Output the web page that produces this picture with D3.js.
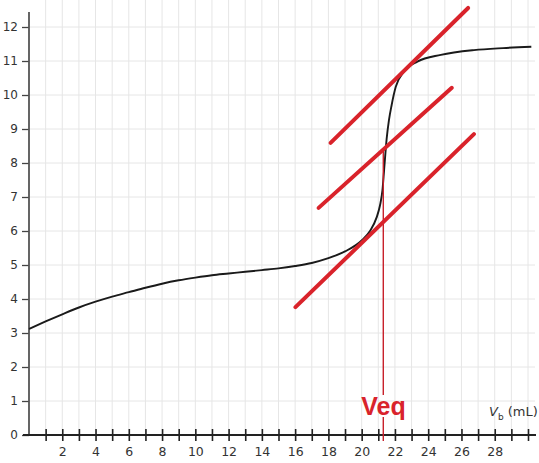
<!DOCTYPE html>
<html><head><meta charset="utf-8">
<script src="https://cdn.jsdelivr.net/npm/d3@7"></script>
<style>body{margin:0;background:#fff;}svg{display:block;}</style>
</head><body>
<svg id="c" width="539" height="463"></svg>
<script>
// titration curve (Vb in mL, pH)
const curveVb = [0,1,2,3,4,5,6,7,8,9,10,11,12,13,14,15,16,17,18,19,20,20.5,20.9,21.1,21.25,21.35,21.5,21.64,21.8,22.05,22.55,23.35,24.76,26.75,28.5,30.2];
const curvePH = [3.12,3.34,3.55,3.75,3.92,4.07,4.2,4.33,4.45,4.55,4.63,4.7,4.75,4.8,4.85,4.9,4.97,5.06,5.2,5.4,5.72,6.0,6.4,6.75,7.2,7.8,8.7,9.26,9.7,10.24,10.69,10.98,11.18,11.32,11.38,11.42];
// parallel tangent method lines: [Vb start, pH start, Vb end, pH end]
const tangentTop = [18.13, 8.59, 26.4, 12.56];
const tangentMid = [17.41, 6.68, 25.42, 10.21];
const tangentBot = [16.02, 3.76, 26.75, 8.85];
const veq = 21.3;
const veqTopPH = 8.39;
const xTickLabels = [2,4,6,8,10,12,14,16,18,20,22,24,26,28];
const yTickLabels = [0,1,2,3,4,5,6,7,8,9,10,11,12];

const svg = d3.select("#c");
const x = d3.scaleLinear().domain([0,30]).range([29,528]);
const y = d3.scaleLinear().domain([0,12]).range([435,27]);

// grid
const g = svg.append("g");
g.selectAll("line.v").data(d3.range(1,31)).join("line")
  .attr("x1",d=>x(d)).attr("x2",d=>x(d)).attr("y1",y(0)).attr("y2",0)
  .attr("stroke","#e6e6e6").attr("stroke-width",1);
g.selectAll("line.h").data(d3.range(1,13)).join("line")
  .attr("x1",x(0)).attr("x2",535).attr("y1",d=>y(d)).attr("y2",d=>y(d))
  .attr("stroke","#e6e6e6").attr("stroke-width",1);

// y axis
const yAxis = d3.axisLeft(y).tickValues(yTickLabels).tickSize(7).tickPadding(4).tickFormat(d3.format("d"));
const ya = svg.append("g").attr("transform",`translate(${x(0)},0)`).call(yAxis);
ya.select(".domain").remove();
ya.selectAll("line").attr("stroke","#444").attr("stroke-width",1.3);
ya.selectAll("text").attr("font-family","DejaVu Sans, sans-serif").attr("font-size",12).attr("fill","#333");
svg.append("line").attr("x1",x(0)).attr("x2",x(0)).attr("y1",y(0)+1).attr("y2",12)
  .attr("stroke","#555").attr("stroke-width",1.8);

// x axis
const xAxis = d3.axisBottom(x).tickValues(d3.range(1,31)).tickSize(6).tickPadding(6)
  .tickFormat(d => xTickLabels.includes(d) ? d : "");
const xa = svg.append("g").attr("transform",`translate(0,${y(0)})`).call(xAxis);
xa.select(".domain").remove();
xa.selectAll(".tick line").attr("y1",-6).attr("stroke","#222").attr("stroke-width",1.6);
xa.selectAll("text").attr("font-family","DejaVu Sans, sans-serif").attr("font-size",12.5).attr("fill","#333");
svg.append("line").attr("x1",x(0)-6).attr("x2",536).attr("y1",y(0)).attr("y2",y(0))
  .attr("stroke","#222").attr("stroke-width",1.8);

// axis title
const t = svg.append("text").attr("x",489).attr("y",416)
  .attr("font-family","DejaVu Sans, sans-serif").attr("font-size",13).attr("fill","#333");
t.append("tspan").attr("font-style","italic").text("V");
t.append("tspan").attr("font-size",9).attr("dy",4).text("b");
t.append("tspan").attr("dy",-4).text(" (mL)");

// curve
const pts = curveVb.map((v,i)=>[v,curvePH[i]]);
svg.append("path").datum(pts)
  .attr("d", d3.line().x(d=>x(d[0])).y(d=>y(d[1])).curve(d3.curveMonotoneX))
  .attr("fill","none").attr("stroke","#1a1a1a").attr("stroke-width",1.9);

// Veq label and vertical line
const red = "#d9232b";
const lab = svg.append("text").attr("x",x(veq)-22).attr("y",y(0)-20)
  .attr("font-family","Liberation Sans, Arial, sans-serif").attr("font-weight","bold")
  .attr("font-size",25).attr("fill",red).text("Veq");
const bb = lab.node().getBBox();
svg.append("line").attr("x1",x(veq)).attr("x2",x(veq)).attr("y1",y(veqTopPH)).attr("y2",bb.y+3)
  .attr("stroke","#c8202a").attr("stroke-width",1.4);
svg.append("line").attr("x1",x(veq)).attr("x2",x(veq)).attr("y1",bb.y+bb.height-3).attr("y2",y(0)+6)
  .attr("stroke","#c8202a").attr("stroke-width",1.4);

// tangents
[tangentTop, tangentMid, tangentBot].forEach(tg => {
  svg.append("line").attr("x1",x(tg[0])).attr("y1",y(tg[1])).attr("x2",x(tg[2])).attr("y2",y(tg[3]))
    .attr("stroke",red).attr("stroke-width",4).attr("stroke-linecap","round");
});
</script>
</body></html>
